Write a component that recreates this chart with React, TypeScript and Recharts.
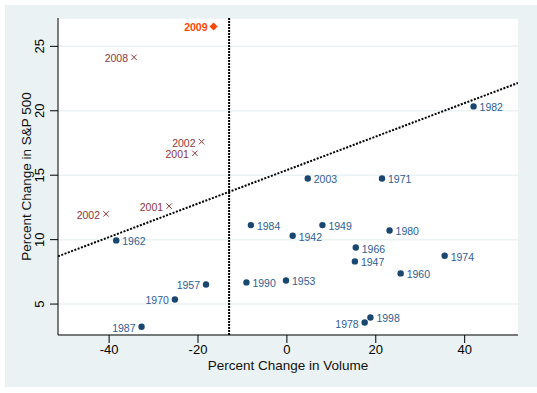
import {
  ScatterChart,
  Scatter,
  XAxis,
  YAxis,
  CartesianGrid,
  ReferenceLine,
} from "recharts";

// pre-2001 years (and 2003)
const dotYears = [1962, 1957, 1970, 1987, 1990, 1953, 1984, 1942, 1949, 2003, 1971, 1980, 1966, 1947, 1974, 1960, 1978, 1998, 1982];
const dotVolume = [-38.4, -18.2, -25.2, -32.7, -9.1, -0.2, -8.1, 1.3, 8.0, 4.7, 21.4, 23.1, 15.5, 15.3, 35.5, 25.6, 17.5, 18.8, 42.0];
const dotSP = [9.94, 6.52, 5.36, 3.24, 6.68, 6.83, 11.13, 10.3, 11.13, 14.75, 14.75, 10.71, 9.39, 8.31, 8.75, 7.38, 3.57, 3.96, 20.34];
const dotLabelsLeft = [1957, 1970, 1987, 1978];

// 2001/2002/2008 crosses
const crossYears = [2008, 2002, 2001, 2002, 2001];
const crossVolume = [-34.4, -19.2, -20.7, -40.7, -26.5];
const crossSP = [24.15, 17.6, 16.7, 12.0, 12.6];

// 2009 highlight
const hiYears = [2009];
const hiVolume = [-16.5];
const hiSP = [26.55];

const xTicks = [-40, -20, 0, 20, 40];
const yTicks = [5, 10, 15, 20, 25];
const xDomain: [number, number] = [-51.5, 52];
const yDomain: [number, number] = [2.6, 27.2];

// fitted line and the volume cut-off
const fitIntercept = 15.4;
const fitSlope = 0.13;
const volumeCut = -13;

const toRows = (years: number[], xs: number[], ys: number[]) =>
  years.map((year, i) => ({ year, x: xs[i], y: ys[i] }));

const dots = toRows(dotYears, dotVolume, dotSP);
const crosses = toRows(crossYears, crossVolume, crossSP);
const highlight = toRows(hiYears, hiVolume, hiSP);

const NAVY = "#1a476f";
const NAVY_TEXT = "#2e5d95";
const MAROON = "#90353b";
const ORANGE = "#ff4500";

const markLabel = (cx: number, cy: number, text: number, left: boolean, color: string, bold = false) => (
  <text
    x={left ? cx - 6 : cx + 6}
    y={cy + 1}
    textAnchor={left ? "end" : "start"}
    dominantBaseline="central"
    fontSize={10.5}
    fontWeight={bold ? "bold" : "normal"}
    fill={color}
  >
    {text}
  </text>
);

const DotShape = (props: any) => {
  const { cx, cy, payload } = props;
  return (
    <g>
      <circle cx={cx} cy={cy} r={3.2} fill={NAVY} />
      {markLabel(cx, cy, payload.year, dotLabelsLeft.includes(payload.year), NAVY_TEXT)}
    </g>
  );
};

const CrossShape = (props: any) => {
  const { cx, cy, payload } = props;
  const s = 2.7;
  return (
    <g>
      <line x1={cx - s} y1={cy - s} x2={cx + s} y2={cy + s} stroke={MAROON} strokeWidth={1} />
      <line x1={cx - s} y1={cy + s} x2={cx + s} y2={cy - s} stroke={MAROON} strokeWidth={1} />
      {markLabel(cx, cy, payload.year, true, MAROON)}
    </g>
  );
};

const DiamondShape = (props: any) => {
  const { cx, cy, payload } = props;
  const s = 4;
  return (
    <g>
      <polygon points={`${cx},${cy - s} ${cx + s},${cy} ${cx},${cy + s} ${cx - s},${cy}`} fill={ORANGE} />
      {markLabel(cx, cy, payload.year, true, ORANGE, true)}
    </g>
  );
};

const YTick = (props: any) => {
  const { x, y, payload } = props;
  const tx = x - 8;
  return (
    <text x={tx} y={y} textAnchor="middle" dominantBaseline="central" fontSize={13} fill="#000" transform={`rotate(-90, ${tx}, ${y})`}>
      {payload.value}
    </text>
  );
};

const YTitle = (props: any) => {
  const { viewBox } = props;
  const cx = 26;
  const cy = viewBox.y + viewBox.height / 2;
  return (
    <text x={cx} y={cy} textAnchor="middle" dominantBaseline="central" fontSize={13.5} fill="#111" transform={`rotate(-90, ${cx}, ${cy})`}>
      Percent Change in S&amp;P 500
    </text>
  );
};

const XTitle = (props: any) => {
  const { viewBox } = props;
  return (
    <text x={viewBox.x + viewBox.width / 2} y={365} textAnchor="middle" dominantBaseline="central" fontSize={13.5} fill="#111">
      Percent Change in Volume
    </text>
  );
};

export default function App() {
  const fitSegment = xDomain.map((x) => ({ x, y: fitIntercept + fitSlope * x }));
  return (
    <div style={{ position: "absolute", left: 0, top: 0, width: 537, height: 393, background: "#fff", fontFamily: "'Liberation Sans', Arial, sans-serif" }}>
      <div style={{ position: "absolute", left: 5, top: 5, width: 532, height: 382, background: "#eaf2f3" }} />
      <div style={{ position: "absolute", left: 0, top: 0 }}>
        <ScatterChart width={537} height={393} margin={{ top: 18, right: 19, bottom: 0, left: 0 }}>
          <CartesianGrid vertical={false} fill="#fff" stroke="#eaf2f3" strokeWidth={1.5} />
          <XAxis
            type="number"
            dataKey="x"
            domain={xDomain}
            ticks={xTicks}
            allowDataOverflow
            height={58}
            tickSize={8}
            tick={{ fontSize: 13, fill: "#000" }}
            axisLine={{ stroke: "#000" }}
            tickLine={{ stroke: "#000" }}
            label={{ content: XTitle }}
          />
          <YAxis
            type="number"
            dataKey="y"
            domain={yDomain}
            ticks={yTicks}
            allowDataOverflow
            width={58}
            tickSize={8}
            tick={YTick}
            axisLine={{ stroke: "#000" }}
            tickLine={{ stroke: "#000" }}
            label={{ content: YTitle }}
          />
          <ReferenceLine segment={fitSegment} stroke="#000" strokeWidth={2} strokeDasharray="2 1.5" ifOverflow="hidden" />
          <ReferenceLine x={volumeCut} stroke="#000" strokeWidth={2} strokeDasharray="2 1" />
          <Scatter data={dots} shape={DotShape} isAnimationActive={false} />
          <Scatter data={crosses} shape={CrossShape} isAnimationActive={false} />
          <Scatter data={highlight} shape={DiamondShape} isAnimationActive={false} />
        </ScatterChart>
      </div>
    </div>
  );
}
